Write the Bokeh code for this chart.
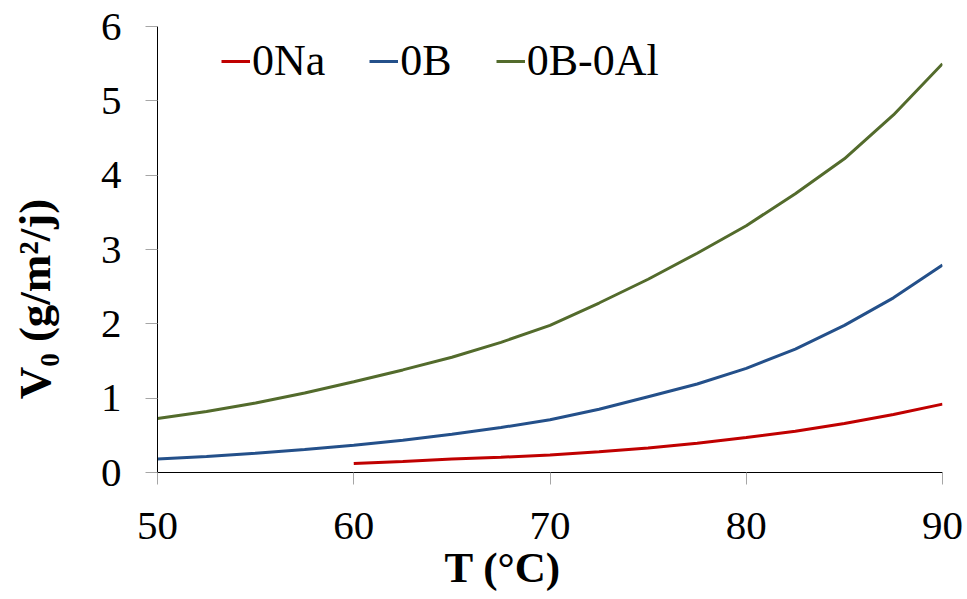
import math
from bokeh.plotting import figure
from bokeh.models import Range1d, Legend, LegendItem, Title
from bokeh.layouts import row
from bokeh.core.properties import value
from bokeh.embed import file_html
from bokeh.resources import INLINE

# ---- data ----
T_FULL = [50, 52.5, 55, 57.5, 60, 62.5, 65, 67.5, 70, 72.5, 75, 77.5, 80, 82.5, 85, 87.5, 90]
T_NA = [60, 62.5, 65, 67.5, 70, 72.5, 75, 77.5, 80, 82.5, 85, 87.5, 90]
V0_0NA = [0.12, 0.148, 0.18, 0.205, 0.235, 0.28, 0.33, 0.395, 0.47, 0.555, 0.66, 0.78, 0.92]
V0_0B = [0.18, 0.215, 0.26, 0.31, 0.367, 0.435, 0.515, 0.605, 0.71, 0.85, 1.02, 1.19,
         1.40, 1.66, 1.98, 2.35, 2.79]
V0_0B_0AL = [0.726, 0.82, 0.935, 1.07, 1.22, 1.38, 1.55, 1.75, 1.98, 2.28, 2.60, 2.95,
             3.32, 3.75, 4.22, 4.81, 5.50]
X_TICKS = [50, 60, 70, 80, 90]
Y_TICKS = [0, 1, 2, 3, 4, 5, 6]
SERIES_NAMES = ["0Na", "0B", "0B-0Al"]
X_TITLE = "T (°C)"
Y_TITLE = "V₀ (g/m²/j)"

COLORS = ["#C00000", "#24508A", "#536B2C"]
FONT = "Liberation Serif"

W, H = 967, 599
TITLE_W = 97

# ---- narrow panel holding the rotated y-axis title ----
ytitle_fig = figure(width=TITLE_W, height=H, output_backend="svg", toolbar_location=None,
                    x_range=Range1d(0, TITLE_W), y_range=Range1d(0, H),
                    x_axis_location=None, y_axis_location=None, min_border=0)
ytitle_fig.outline_line_color = None
ytitle_fig.xgrid.visible = False
ytitle_fig.ygrid.visible = False
ytitle_fig.text(x=[34], y=[233], text=[Y_TITLE], angle=math.pi / 2,
                text_align="center", text_baseline="alphabetic",
                text_font=value(FONT), text_font_style="bold",
                text_font_size="45px", text_color="black")

# ---- main chart ----
p = figure(width=W - TITLE_W, height=H, output_backend="svg", toolbar_location=None,
           x_range=Range1d(50, 90), y_range=Range1d(0, 6),
           min_border_left=157 - TITLE_W, min_border_right=25,
           min_border_top=26, min_border_bottom=127)
p.outline_line_color = None
p.xgrid.visible = False
p.ygrid.visible = False

for ax, ticks in ((p.xaxis, X_TICKS), (p.yaxis, Y_TICKS)):
    ax.ticker = ticks
    ax.axis_line_color = "black"
    ax.axis_line_width = 1
    ax.major_tick_line_color = "#A6A6A6"
    ax.major_tick_line_width = 1
    ax.major_tick_out = 12
    ax.major_tick_in = 0
    ax.minor_tick_line_color = None
    ax.major_label_text_font = FONT
    ax.major_label_text_font_size = "41px"
    ax.major_label_text_color = "black"

p.xaxis.major_label_standoff = 28
p.yaxis.major_label_standoff = 24

r_na = p.line(T_NA, V0_0NA, line_color=COLORS[0], line_width=3)
r_b = p.line(T_FULL, V0_0B, line_color=COLORS[1], line_width=3)
r_al = p.line(T_FULL, V0_0B_0AL, line_color=COLORS[2], line_width=3)

legend = Legend(
    items=[LegendItem(label=SERIES_NAMES[0], renderers=[r_na]),
           LegendItem(label=SERIES_NAMES[1], renderers=[r_b]),
           LegendItem(label=SERIES_NAMES[2], renderers=[r_al])],
    location=(64, 386), orientation="horizontal",
    label_text_font=FONT, label_text_font_size="44px", label_text_color="black",
    glyph_width=29, glyph_height=20, label_standoff=2, spacing=44,
    padding=0, margin=0, border_line_color=None, background_fill_alpha=0,
)
p.add_layout(legend)

p.add_layout(Title(text=X_TITLE, align="left", offset=287, standoff=0,
                   text_font=FONT, text_font_style="bold", text_font_size="43px",
                   text_color="black"), "below")

layout = row(ytitle_fig, p)
open("out.html", "w").write(file_html(layout, INLINE))
